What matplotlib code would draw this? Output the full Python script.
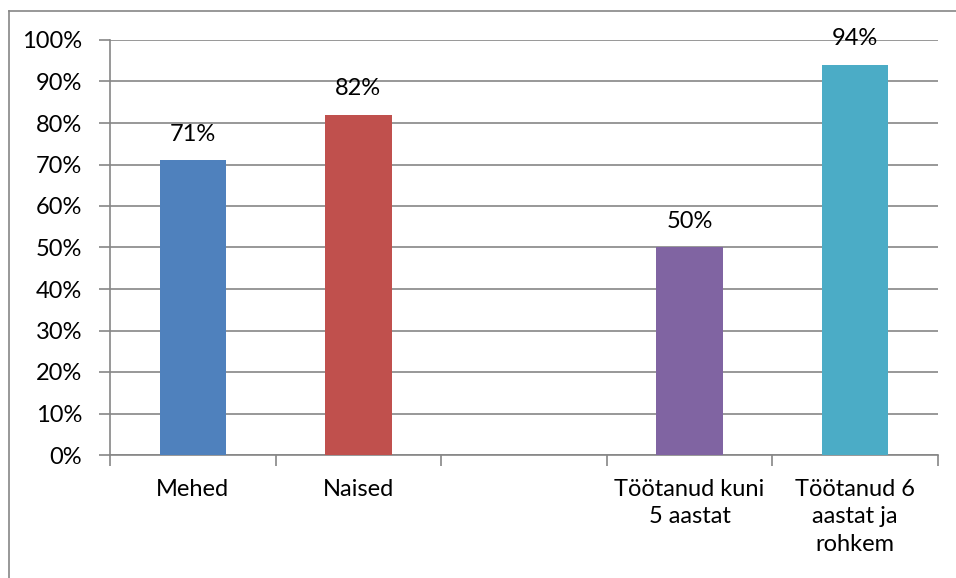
import matplotlib.pyplot as plt
from matplotlib.lines import Line2D
from matplotlib.ticker import MultipleLocator, PercentFormatter

categories = ["Mehed", "Naised", "", "Töötanud kuni\n5 aastat", "Töötanud 6\naastat ja\nrohkem"]
values = [71, 82, None, 50, 94]
colors = ["#4F81BD", "#C0504D", "#FFFFFF", "#8064A2", "#4BACC6"]

plt.rcParams['font.family'] = ['Lato', 'DejaVu Sans']
grid_col = "#868686"
fs = 17

fig = plt.figure(figsize=(9.56, 5.78), dpi=100)
ax = fig.add_axes([110 / 956, 1 - 455 / 578, 828 / 956, 415 / 578])

for i, (v, c) in enumerate(zip(values, colors)):
    if v is None:
        continue
    ax.bar(i, v, width=0.4, color=c, zorder=3)
    ax.text(i, v + 3.8, f"{v}%", ha="center", va="bottom", fontsize=fs, color="#000000", zorder=4)

ax.set_xlim(-0.5, len(categories) - 0.5)
ax.set_ylim(0, 100)
ax.yaxis.set_major_locator(MultipleLocator(10))
ax.yaxis.set_major_formatter(PercentFormatter(decimals=0))
ax.grid(axis="y", color=grid_col, linewidth=1.2, zorder=0)

# category labels sit between the boundary ticks
ax.set_xticks(range(len(categories)))
ax.set_xticklabels(categories, fontsize=fs, linespacing=1.4)
ax.tick_params(axis="x", length=0, pad=17)
ax.set_xticks([x - 0.5 for x in range(len(categories) + 1)], minor=True)
ax.tick_params(axis="x", which="minor", length=8, color=grid_col, width=1.2)
ax.tick_params(axis="y", length=8, color=grid_col, width=1.2, labelsize=fs, pad=12)

for side in ["top", "right"]:
    ax.spines[side].set_visible(False)
for side in ["left", "bottom"]:
    ax.spines[side].set_color(grid_col)
    ax.spines[side].set_linewidth(1.2)

# outer frame of the chart area
fig.add_artist(Line2D([8.5 / 956, 8.5 / 956], [0, 1 - 10.5 / 578], transform=fig.transFigure, color=grid_col, linewidth=1.2))
fig.add_artist(Line2D([8.5 / 956, 1], [1 - 10.5 / 578, 1 - 10.5 / 578], transform=fig.transFigure, color=grid_col, linewidth=1.2))

fig.savefig("out.png", dpi=100)
